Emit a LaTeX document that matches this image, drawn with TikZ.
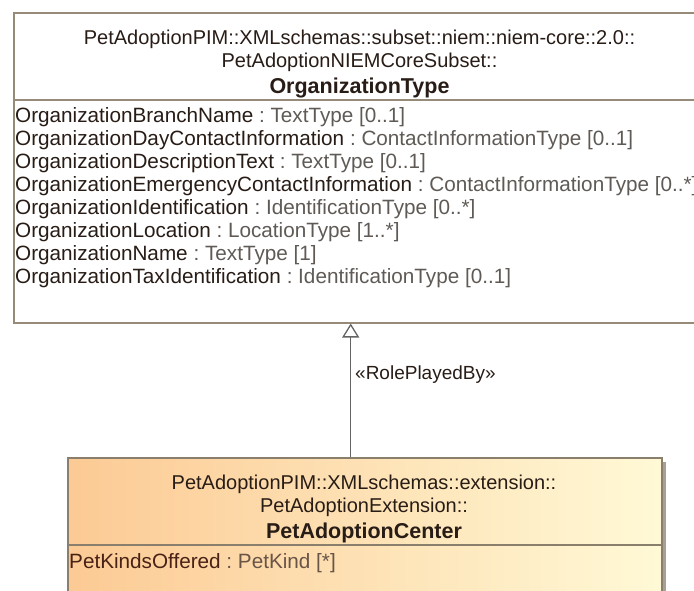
\documentclass[tikz,border=0pt]{standalone}
\usepackage{fontspec}
\setmainfont{Liberation Sans}
\usetikzlibrary{arrows.meta}
\definecolor{topline}{RGB}{150,138,120}
\definecolor{botline}{RGB}{138,126,108}
\definecolor{nm}{RGB}{40,28,22}
\definecolor{ty}{RGB}{95,90,85}
\definecolor{bnm}{RGB}{72,34,22}
\definecolor{bty}{RGB}{105,85,72}
\definecolor{peach}{RGB}{252,202,148}
\definecolor{cream}{RGB}{255,249,214}
\definecolor{shadowc}{RGB}{168,160,150}
\definecolor{connc}{RGB}{100,100,100}
\newcommand{\attrline}[3]{\textcolor{#3}{#1}\ \textcolor{ty}{:\ #2}}
\begin{document}
\begin{tikzpicture}[x=1pt,y=-1pt,
  txt/.style={inner sep=0pt, font=\fontsize{20}{23}\selectfont},
  attr/.style={inner sep=0pt, anchor=base west, font=\fontsize{20.7}{23}\selectfont},
  hdr/.style={txt, anchor=base},
  hdrbold/.style={hdr, font=\fontsize{21.5}{25}\selectfont\bfseries},
  boxframe/.style={inner sep=0pt, anchor=north west, line width=1.5pt},
  conn/.style={draw=connc, line width=1.4pt}]
\useasboundingbox (0,0) rectangle (694,590);
\fill[white] (0,0) rectangle (694,590);
\clip (0,0) rectangle (694,590);
% ---------- OrganizationType ----------
\node[boxframe, draw=topline, minimum width=693pt, minimum height=310pt] (org) at (13,12) {};
\draw[topline, line width=1.5pt] (org.west |- 0,100) -- (org.east |- 0,100);
\node[hdr, text=nm] (oh1) at (359.5,44) {PetAdoptionPIM::XMLschemas::subset::niem::niem-core::2.0::};
\node[hdr, text=nm] (oh2) at (359.5,67.5) {PetAdoptionNIEMCoreSubset::};
\node[hdrbold, text=nm] (oh3) at (359.5,93.5) {OrganizationType};
\node[attr] (a1) at (15,122) {\attrline{OrganizationBranchName}{TextType [0..1]}{nm}};
\node[attr] (a2) at (15,145) {\attrline{OrganizationDayContactInformation}{ContactInformationType [0..1]}{nm}};
\node[attr] (a3) at (15,168) {\attrline{OrganizationDescriptionText}{TextType [0..1]}{nm}};
\node[attr] (a4) at (15,191) {\attrline{OrganizationEmergencyContactInformation}{ContactInformationType [0..*]}{nm}};
\node[attr] (a5) at (15,214) {\attrline{OrganizationIdentification}{IdentificationType [0..*]}{nm}};
\node[attr] (a6) at (15,237) {\attrline{OrganizationLocation}{LocationType [1..*]}{nm}};
\node[attr] (a7) at (15,260) {\attrline{OrganizationName}{TextType [1]}{nm}};
\node[attr] (a8) at (15,283) {\attrline{OrganizationTaxIdentification}{IdentificationType [0..1]}{nm}};
% ---------- PetAdoptionCenter ----------
\fill[shadowc] (71,462) rectangle (666,600);
\shade[left color=peach, right color=cream] (67,457) rectangle (661,600);
\node[boxframe, draw=botline, minimum width=594pt, minimum height=143pt] (pac) at (67,457) {};
\draw[botline, line width=1.5pt] (pac.west |- 0,545) -- (pac.east |- 0,545);
\node[hdr, text=nm] (ph1) at (364,489) {PetAdoptionPIM::XMLschemas::extension::};
\node[hdr, text=nm] (ph2) at (364,512) {PetAdoptionExtension::};
\node[hdrbold, text=nm] (ph3) at (364,538.5) {PetAdoptionCenter};
\node[attr] (p1) at (69,568) {\textcolor{bnm}{PetKindsOffered}\ \textcolor{bty}{:\ PetKind [*]}};
% ---------- connector ----------
\coordinate (lx) at (350.7,400);
\coordinate (lblpt) at (355,379);
\draw[conn, -{Triangle[open, length=14pt, width=17pt, line width=1.3pt]}] (lx |- pac.north) -- (lx |- org.south);
\node[inner sep=0pt, anchor=base west, font=\fontsize{19}{22}\selectfont, text=nm] (lbl) at (lblpt) {«RolePlayedBy»};
\end{tikzpicture}
\end{document}
